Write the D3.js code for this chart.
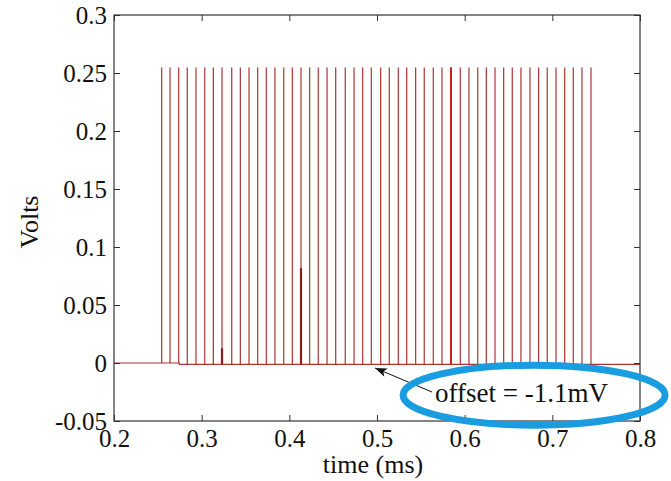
<!DOCTYPE html>
<html>
<head>
<meta charset="utf-8">
<script src="https://cdn.jsdelivr.net/npm/d3@7"></script>
<style>
  body { margin: 0; background: #fff; }
  text { font-family: "Liberation Serif", "Times New Roman", serif; fill: #111; }
</style>
</head>
<body>
<svg id="chart" width="671" height="481"></svg>
<script>
// Axis ticks and labels
const xTicks = [0.2, 0.3, 0.4, 0.5, 0.6, 0.7, 0.8];
const xTickLabels = ["0.2", "0.3", "0.4", "0.5", "0.6", "0.7", "0.8"];
const yTicks = [-0.05, 0, 0.05, 0.1, 0.15, 0.2, 0.25, 0.3];
const yTickLabels = ["-0.05", "0", "0.05", "0.1", "0.15", "0.2", "0.25", "0.3"];

// Pulse train: spike times (ms) and the common peak height (V)
const spikeTimes = [
  0.2544, 0.2639, 0.2738, 0.2836, 0.2935, 0.3035, 0.3133, 0.3232, 0.3343, 0.3441,
  0.3540, 0.3639, 0.3737, 0.3836, 0.3936, 0.4034, 0.4133, 0.4232, 0.4330, 0.4430,
  0.4529, 0.4638, 0.4738, 0.4837, 0.4935, 0.5042, 0.5140, 0.5243, 0.5339, 0.5441,
  0.5539, 0.5642, 0.5741, 0.5844, 0.5950, 0.6049, 0.6149, 0.6247, 0.6346, 0.6445,
  0.6543, 0.6642, 0.6745, 0.6844, 0.6942, 0.7042, 0.7141, 0.7239, 0.7338, 0.7441
];
const spikePeak = 0.2548;

// Baseline: 0 V at first, then the -1.1 mV offset
const baselineStart = 0;
const baselineOffset = -0.0011;
const offsetFrom = 0.2745;

// Heavier pulses drawn over the train
const heavyTimes = [0.3232, 0.4133];
const heavyValues = [0.0127, 0.0816];
const brightTimes = [0.5844];
const brightValues = [0.2548];

// Annotation
const noteText = "offset = -1.1mV";
const arrowTip = [0.4977, -0.0043];
const arrowTail = [0.5627, -0.0250];
const notePos = [0.5661, -0.0334];
const ringCenter = [0.6792, -0.0277];

(function draw() {
  const svg = d3.select("#chart");
  const pL = 114, pR = 640, pT = 15, pB = 421;

  const x = d3.scaleLinear().domain([0.2, 0.8]).range([pL, pR]);
  const y = d3.scaleLinear().domain([-0.05, 0.3]).range([pB, pT]);

  // Trace through the pulse train
  const pts = [[0.2, baselineStart]];
  let stepped = false;
  spikeTimes.forEach(t => {
    if (!stepped && t > offsetFrom) {
      pts.push([offsetFrom, baselineStart], [offsetFrom, baselineOffset]);
      stepped = true;
    }
    const b = t < offsetFrom ? baselineStart : baselineOffset;
    pts.push([t, b], [t, spikePeak], [t, b]);
  });
  pts.push([0.8, baselineOffset]);

  const line = d3.line().x(d => x(d[0])).y(d => y(d[1]));

  svg.append("path")
    .attr("d", line(pts))
    .attr("fill", "none")
    .attr("stroke", "#ad3434")
    .attr("stroke-width", 1.2);

  svg.selectAll("line.heavy")
    .data(heavyTimes)
    .join("line")
    .attr("class", "heavy")
    .attr("x1", d => x(d)).attr("x2", d => x(d))
    .attr("y1", y(baselineOffset))
    .attr("y2", (d, i) => y(heavyValues[i]))
    .attr("stroke", "#8a1c1c")
    .attr("stroke-width", 2.2);

  svg.selectAll("line.bright")
    .data(brightTimes)
    .join("line")
    .attr("class", "bright")
    .attr("x1", d => x(d)).attr("x2", d => x(d))
    .attr("y1", y(baselineOffset))
    .attr("y2", (d, i) => y(brightValues[i]))
    .attr("stroke", "#d01e1e")
    .attr("stroke-width", 2);

  // Axes: inward ticks on all four sides
  const fs = 25;
  const gx = svg.append("g").attr("transform", `translate(0,${pB})`)
    .call(d3.axisBottom(x).tickValues(xTicks).tickFormat((d, i) => xTickLabels[i])
      .tickSizeInner(-6).tickSizeOuter(0).tickPadding(8));
  const gy = svg.append("g").attr("transform", `translate(${pL},0)`)
    .call(d3.axisLeft(y).tickValues(yTicks).tickFormat((d, i) => yTickLabels[i])
      .tickSizeInner(-6).tickSizeOuter(0).tickPadding(7));
  const gt = svg.append("g").attr("transform", `translate(0,${pT})`)
    .call(d3.axisTop(x).tickValues(xTicks).tickFormat("").tickSizeInner(-6).tickSizeOuter(0));
  const gr = svg.append("g").attr("transform", `translate(${pR},0)`)
    .call(d3.axisRight(y).tickValues(yTicks).tickFormat("").tickSizeInner(-6).tickSizeOuter(0));

  [gx, gy, gt, gr].forEach(g => {
    g.select(".domain").remove();
    g.selectAll(".tick line").attr("stroke", "#333");
    g.selectAll("text")
      .attr("font-size", fs)
      .attr("font-family", "Liberation Serif, Times New Roman, serif")
      .attr("fill", "#111");
  });

  svg.append("rect")
    .attr("x", pL).attr("y", pT)
    .attr("width", pR - pL).attr("height", pB - pT)
    .attr("fill", "none").attr("stroke", "#333").attr("stroke-width", 1.2);

  // Axis titles
  svg.append("text")
    .attr("x", 373).attr("y", 473)
    .attr("text-anchor", "middle")
    .attr("font-size", 26)
    .text("time (ms)");

  svg.append("text")
    .attr("transform", "translate(38,222) rotate(-90)")
    .attr("text-anchor", "middle")
    .attr("font-size", 26)
    .text("Volts");

  // Annotation arrow
  const tx = x(arrowTail[0]), ty = y(arrowTail[1]);
  const hx = x(arrowTip[0]), hy = y(arrowTip[1]);
  svg.append("line")
    .attr("x1", tx).attr("y1", ty).attr("x2", hx).attr("y2", hy)
    .attr("stroke", "#111").attr("stroke-width", 1);
  const ang = Math.atan2(hy - ty, hx - tx);
  const hl = 12, hw = 4.5, back = 9;
  const ux = Math.cos(ang), uy = Math.sin(ang);
  const head = [
    [hx, hy],
    [hx - hl * ux - hw * uy, hy - hl * uy + hw * ux],
    [hx - back * ux, hy - back * uy],
    [hx - hl * ux + hw * uy, hy - hl * uy - hw * ux]
  ];
  svg.append("path")
    .attr("d", "M" + head.map(p => p.join(",")).join("L") + "Z")
    .attr("fill", "#111");

  svg.append("text")
    .attr("x", x(notePos[0])).attr("y", y(notePos[1]))
    .attr("font-size", 27)
    .text(noteText);

  // Highlight ring around the annotation
  svg.append("ellipse")
    .attr("cx", x(ringCenter[0])).attr("cy", y(ringCenter[1]))
    .attr("rx", 131).attr("ry", 30)
    .attr("fill", "none")
    .attr("stroke", "#1a9de0")
    .attr("stroke-width", 7);
})();
</script>
</body>
</html>
